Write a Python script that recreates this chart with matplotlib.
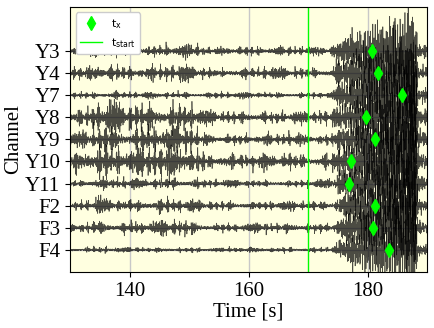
import numpy as np
import matplotlib.pyplot as plt

# channels, top to bottom
channels = ['Y3', 'Y4', 'Y7', 'Y8', 'Y9', 'Y10', 'Y11', 'F2', 'F3', 'F4']
t_start = 170.0
t_x = [180.7, 181.7, 185.8, 179.7, 181.3, 177.2, 176.9, 181.3, 180.9, 183.6]

# amplitude envelopes (units of channel spacing)
t_env = [130, 132.5, 135, 137.5, 140, 142.5, 145, 147.5, 150, 152.5, 155, 157.5,
         160, 162.5, 165, 167.5, 170, 174, 175, 177.5, 180, 182.5, 185, 188, 188.5, 190]
env = {
    'Y3':  [.15, .15, .18, .18, .15, .18, .20, .22, .25, .15, .15, .15, .15, .15, .15, .15, .15, .18, .40, .40, .40, .40, .40, .50, .20, .20],
    'Y4':  [.22, .22, .28, .25, .22, .25, .25, .25, .28, .18, .18, .18, .18, .18, .18, .18, .18, .20, .40, .40, .40, .40, .40, .50, .20, .20],
    'Y7':  [.10, .10, .12, .12, .10, .10, .10, .10, .12, .10, .10, .10, .10, .10, .10, .10, .10, .12, .35, .40, .40, .40, .40, .50, .20, .20],
    'Y8':  [.30, .30, .55, .45, .40, .45, .45, .50, .50, .25, .20, .20, .20, .20, .20, .22, .20, .25, .45, .45, .45, .45, .45, .50, .25, .25],
    'Y9':  [.25, .25, .45, .40, .35, .40, .40, .45, .45, .20, .18, .18, .18, .18, .18, .20, .18, .22, .45, .45, .45, .45, .45, .50, .25, .25],
    'Y10': [.35, .35, .60, .55, .50, .50, .55, .55, .55, .30, .25, .25, .25, .25, .25, .25, .22, .25, .50, .50, .50, .50, .50, .55, .25, .25],
    'Y11': [.12, .12, .20, .18, .15, .18, .18, .20, .20, .15, .12, .12, .12, .12, .12, .12, .12, .15, .30, .35, .40, .40, .40, .50, .20, .20],
    'F2':  [.15, .15, .25, .20, .20, .22, .22, .25, .22, .15, .15, .15, .15, .15, .15, .15, .15, .15, .28, .28, .30, .32, .35, .50, .15, .15],
    'F3':  [.15, .15, .25, .20, .20, .22, .22, .25, .25, .15, .15, .15, .15, .15, .15, .15, .15, .15, .25, .28, .28, .30, .32, .50, .15, .15],
    'F4':  [.08, .08, .10, .10, .08, .08, .08, .08, .08, .08, .08, .08, .08, .08, .08, .08, .08, .08, .18, .20, .20, .20, .25, .45, .12, .12],
}
# large seizure excursions (units), same grid
spikes = [0, 0, 0, 0, 0, 0, 0, 0, 0, 0, 0, 0, 0, 0, 0, 0, 0, 0, .3, .7, 1.0, 1.2, 1.4, 1.8, .25, .2]

fs = 60
t = np.arange(130, 190, 1 / fs)


def texture(ph):
    # deterministic, irregular oscillation used as the trace carrier
    f = [5.3, 8.9, 13.1, 19.7, 2.3, 11.3]
    g = [0.37, 0.61, 0.23, 0.83, 0.11, 0.47]
    m = [6.0, 4.0, 8.0, 5.0, 3.0, 7.0]
    w = [1.0, 0.8, 0.7, 0.6, 0.5, 0.7]
    c = sum(wk * np.sin(2 * np.pi * fk * t + (k + 1) * ph + mk * np.sin(2 * np.pi * gk * t + 2.3 * k + ph))
            for k, (fk, gk, mk, wk) in enumerate(zip(f, g, m, w)))
    mod = 0.35 + np.abs(np.sin(2 * np.pi * 0.29 * t + ph + 2 * np.sin(2 * np.pi * 0.13 * t + 3 * ph))) ** 3
    return c / 2.4 * mod


fig = plt.figure(figsize=(4.35, 3.28), dpi=100)
ax = fig.add_axes([0.161, 0.171, 0.821, 0.808])
ax.set_facecolor('#FFFFE0')

n = len(channels)
for i, ch in enumerate(channels):
    off = n - 1 - i
    ph = 1.7 * i + 0.4
    a = np.interp(t, t_env, env[ch])
    s = np.interp(t, t_env, spikes)
    spiky = (np.sin(2 * np.pi * 3.7 * t + ph) ** 11 * np.sin(2 * np.pi * 1.3 * t + 2 * ph)
             + np.sin(2 * np.pi * 6.1 * t + 3 * ph) ** 15 * np.sin(2 * np.pi * 0.7 * t + ph))
    y = off + a * texture(ph) + s * spiky
    ax.plot(t, y, color='black', lw=0.5, alpha=0.7)

ax.axvline(t_start, color='#00FF00', lw=1, label=r'$\mathregular{t_{start}}$')
ax.plot(t_x, [n - 1 - i for i in range(n)], 'd', color='#00FF00', ms=7, ls='none',
        label=r'$\mathregular{t_x}$', zorder=5)

ax.set_xlim(130, 190)
ax.set_ylim(-1, 11)
ax.set_yticks(range(n))
ax.set_yticklabels(channels[::-1])
ax.set_xticks([140, 160, 180])
ax.grid(color='#c8c8c8', lw=1)
ax.set_axisbelow(True)
ax.tick_params(labelsize=15)
for lab in ax.get_xticklabels() + ax.get_yticklabels():
    lab.set_family('Liberation Serif')
ax.set_xlabel('Time [s]', family='Liberation Serif', fontsize=15, labelpad=1)
ax.set_ylabel('Channel', family='Liberation Serif', fontsize=15, labelpad=1)

h, l = ax.get_legend_handles_labels()
ax.legend(h[::-1], l[::-1], loc='upper left', fontsize=8, framealpha=1)

fig.savefig('out.png', dpi=100)
